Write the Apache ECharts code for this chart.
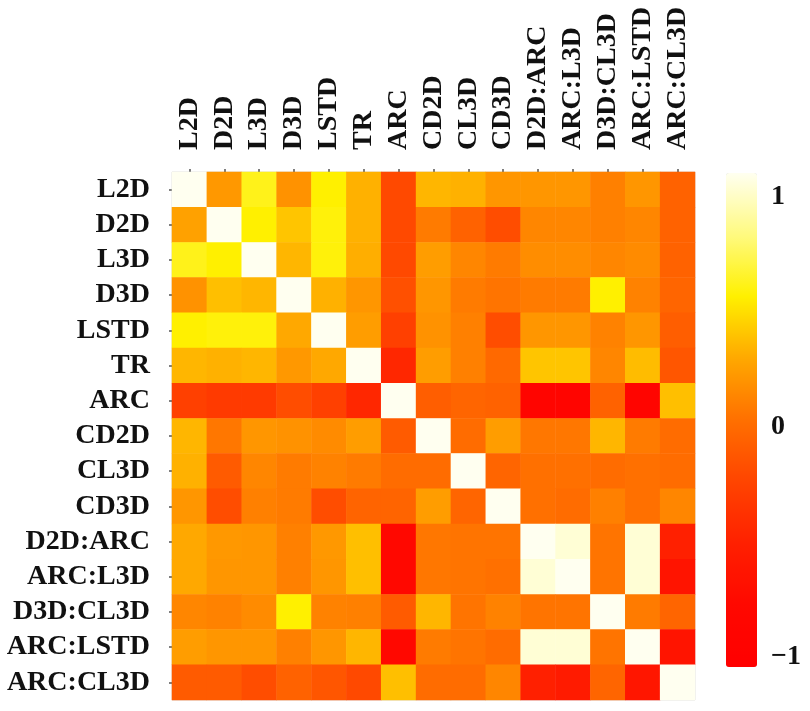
<!DOCTYPE html>
<html>
<head>
<meta charset="utf-8">
<script src="https://cdn.jsdelivr.net/npm/echarts@6.0.0/dist/echarts.min.js"></script>
<style>
  html, body { margin: 0; padding: 0; background: #fff; }
  #chart { width: 810px; height: 711px; }
</style>
</head>
<body>
<div id="chart"></div>
<script>
// variable names, same order on both axes
const labels = ['L2D', 'D2D', 'L3D', 'D3D', 'LSTD', 'TR', 'ARC', 'CD2D', 'CL3D', 'CD3D',
  'D2D:ARC', 'ARC:L3D', 'D3D:CL3D', 'ARC:LSTD', 'ARC:CL3D'];

// correlation rows
const rowL2D     = [1, 0.18, 0.55, 0.15, 0.5, 0.28, -0.22, 0.3, 0.28, 0.17, 0.17, 0.17, 0.07, 0.17, -0.08];
const rowD2D     = [0.22, 1, 0.5, 0.35, 0.52, 0.28, -0.22, 0.05, -0.08, -0.2, 0.1, 0.1, 0.07, 0.1, -0.08];
const rowL3D     = [0.55, 0.5, 1, 0.3, 0.52, 0.27, -0.22, 0.2, 0.1, 0.05, 0.13, 0.13, 0.1, 0.12, -0.08];
const rowD3D     = [0.15, 0.33, 0.3, 1, 0.28, 0.17, -0.18, 0.17, 0.05, 0.02, 0.05, 0.05, 0.5, 0.08, -0.06];
const rowLSTD    = [0.5, 0.52, 0.52, 0.25, 1, 0.2, -0.28, 0.15, 0.07, -0.2, 0.17, 0.17, 0.08, 0.17, -0.1];
const rowTR      = [0.3, 0.28, 0.3, 0.18, 0.25, 1, -0.45, 0.2, 0.07, -0.04, 0.35, 0.35, 0.1, 0.32, -0.15];
const rowARC     = [-0.28, -0.32, -0.32, -0.2, -0.28, -0.45, 1, -0.1, -0.06, -0.08, -0.85, -0.85, -0.08, -0.85, 0.33];
const rowCD2D    = [0.3, 0.03, 0.17, 0.15, 0.12, 0.2, -0.12, 1, -0.02, 0.2, 0.03, 0.03, 0.3, 0.05, -0.02];
const rowCL3D    = [0.28, -0.12, 0.1, 0.05, 0.08, 0.05, -0.02, -0.02, 1, -0.06, 0, 0, -0.02, 0, -0.02];
const rowCD3D    = [0.17, -0.2, 0.07, 0.05, -0.2, -0.07, -0.07, 0.2, -0.06, 1, 0, -0.02, 0.07, 0, 0.1];
const rowD2DARC  = [0.25, 0.18, 0.17, 0.07, 0.18, 0.33, -0.75, 0.03, 0.02, 0.02, 1, 0.94, 0.02, 0.94, -0.5];
const rowARCL3D  = [0.25, 0.17, 0.17, 0.07, 0.17, 0.33, -0.75, 0.03, 0.02, 0, 0.94, 1, 0.02, 0.94, -0.62];
const rowD3DCL3D = [0.1, 0.08, 0.12, 0.5, 0.08, 0.07, -0.12, 0.3, 0.02, 0.08, 0.02, 0.02, 1, 0.05, -0.06];
const rowARCLSTD = [0.2, 0.17, 0.17, 0.07, 0.17, 0.3, -0.75, 0.05, 0.02, -0.02, 0.94, 0.94, 0.02, 1, -0.62];
const rowARCCL3D = [-0.12, -0.12, -0.2, -0.08, -0.15, -0.22, 0.33, -0.02, -0.02, 0.1, -0.5, -0.55, -0.06, -0.6, 1];

const rows = [rowL2D, rowD2D, rowL3D, rowD3D, rowLSTD, rowTR, rowARC, rowCD2D, rowCL3D, rowCD3D,
  rowD2DARC, rowARCL3D, rowD3DCL3D, rowARCLSTD, rowARCCL3D];

// colour bar ticks
const scaleTicks = [-1, 0, 1];

// heat colours, red -> orange -> yellow -> white
const heatColors = ['#FF0000', '#FF0800', '#FF2000', '#FF4400', '#FF7000', '#FFA800', '#FFF000', '#FFFA80', '#FFFFF0'];

const cells = [];
rows.forEach((r, y) => r.forEach((v, x) => cells.push([x, y, v])));

const font = "'Liberation Serif','Times New Roman',serif";

const chart = echarts.init(document.getElementById('chart'));
chart.setOption({
  animation: false,
  grid: [
    { left: 172, top: 172, width: 523, height: 528, show: true, borderColor: '#dddddd', borderWidth: 1 },
    { left: 726, top: 197, width: 31, height: 460 }
  ],
  xAxis: [
    {
      type: 'category',
      data: labels,
      position: 'top',
      axisLine: { show: false },
      axisTick: { show: true, length: 3, alignWithLabel: true, lineStyle: { color: '#555', width: 1.5 } },
      axisLabel: { rotate: -90, margin: 22, fontSize: 28, fontWeight: 'bold', color: '#111', fontFamily: font, interval: 0 },
      splitLine: { show: false }
    },
    { type: 'value', gridIndex: 1, show: false, min: 0, max: 1 }
  ],
  yAxis: [
    {
      type: 'category',
      data: labels,
      inverse: true,
      axisLine: { show: false },
      axisTick: { show: true, length: 3, alignWithLabel: true, lineStyle: { color: '#555', width: 1.5 } },
      axisLabel: { margin: 22, fontSize: 28, fontWeight: 'bold', color: '#111', fontFamily: font, interval: 0 },
      splitLine: { show: false }
    },
    {
      type: 'value',
      gridIndex: 1,
      position: 'right',
      min: scaleTicks[0],
      max: scaleTicks[scaleTicks.length - 1],
      interval: 1,
      axisLine: { show: false },
      axisTick: { show: false },
      splitLine: { show: false },
      axisLabel: {
        margin: 14, fontSize: 28, fontWeight: 'bold', color: '#111', fontFamily: font,
        formatter: v => (v < 0 ? '\u2212' + Math.abs(v) : String(v))
      }
    }
  ],
  visualMap: {
    type: 'continuous',
    min: -1,
    max: 1,
    calculable: false,
    orient: 'vertical',
    left: 726,
    top: 173,
    padding: 0,
    itemWidth: 31,
    itemHeight: 494,
    text: null,
    showLabel: false,
    inRange: { color: heatColors },
    seriesIndex: 0
  },
  series: [{
    type: 'heatmap',
    xAxisIndex: 0,
    yAxisIndex: 0,
    data: cells,
    itemStyle: { borderWidth: 0 },
    emphasis: { disabled: true }
  }]
});
</script>
</body>
</html>
